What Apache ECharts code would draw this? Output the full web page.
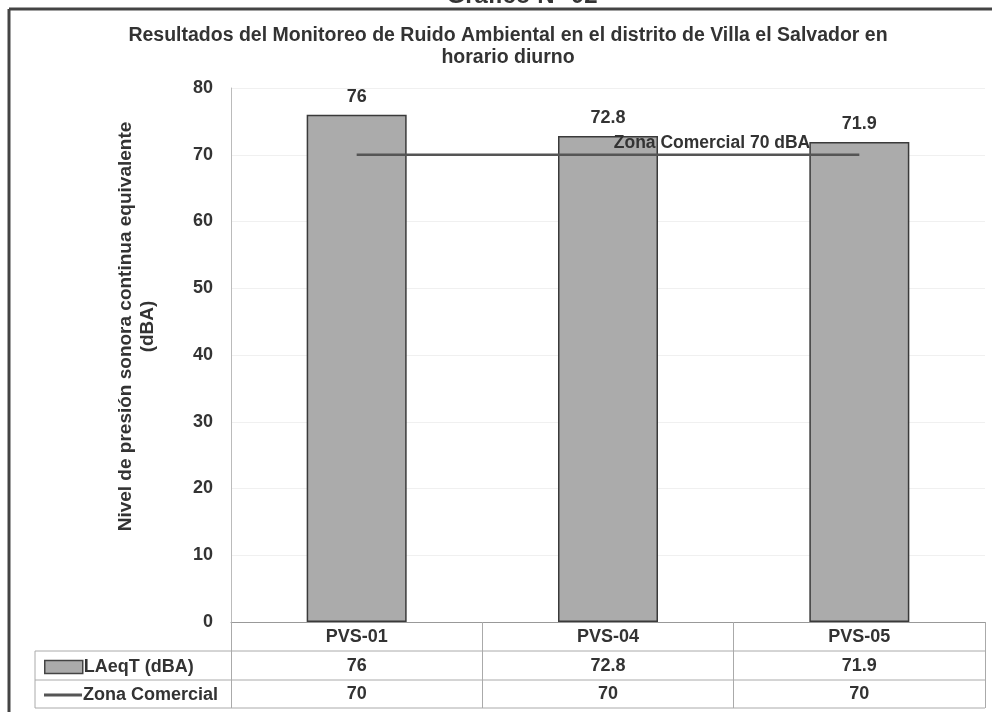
<!DOCTYPE html>
<html>
<head>
<meta charset="utf-8">
<script src="https://cdn.jsdelivr.net/npm/echarts@6/dist/echarts.min.js"></script>
<style>html,body{margin:0;padding:0;background:#fff}#c{width:992px;height:712px}</style>
</head>
<body>
<div id="c"></div>
<script>
const categories = ['PVS-01', 'PVS-04', 'PVS-05'];
const laeqValues = [76, 72.8, 71.9];
const zonaValues = [70, 70, 70];
const yTicks = [0, 10, 20, 30, 40, 50, 60, 70, 80];
const seriesNames = ['LAeqT (dBA)', 'Zona Comercial'];
const titleText = 'Resultados del Monitoreo de Ruido Ambiental en el distrito de Villa el Salvador en\nhorario diurno';
const yAxisName = 'Nivel de presión sonora continua equivalente\n(dBA)';

const FONT = '"Liberation Sans", Arial, sans-serif';
const chart = echarts.init(document.getElementById('c'), null, {renderer: 'canvas'});

const baseX = {
  type: 'category', gridIndex: 0, position: 'bottom',
  axisLine: {show: false}, axisTick: {show: false}, splitLine: {show: false},
  axisLabel: {fontFamily: FONT, fontWeight: 'bold', fontSize: 18, color: '#333', margin: 6}
};

chart.setOption({
  animation: false,
  backgroundColor: '#fff',
  title: [
    {text: 'Gráfico N° 02', left: 517, textAlign: 'center', top: -21,
     textStyle: {fontFamily: FONT, fontWeight: 'bold', fontSize: 24, color: '#333'}},
    {text: titleText, left: 503, textAlign: 'center', top: 20,
     textStyle: {fontFamily: FONT, fontWeight: 'bold', fontSize: 19.5, color: '#333', lineHeight: 22}}
  ],
  legend: [
    {data: [seriesNames[0]], left: 39, top: 653, orient: 'vertical', icon: 'rect',
     itemWidth: 38, itemHeight: 13, itemGap: 2,
     itemStyle: {color: '#ababab', borderColor: '#444', borderWidth: 1.5},
     textStyle: {fontFamily: FONT, fontWeight: 'bold', fontSize: 18, color: '#333', padding: [0,0,0,-4]}},
    {data: [seriesNames[1]], left: 39, top: 681, orient: 'vertical', icon: 'rect',
     itemWidth: 38, itemHeight: 3,
     itemStyle: {color: '#555', borderWidth: 0},
     textStyle: {fontFamily: FONT, fontWeight: 'bold', fontSize: 18, color: '#333', padding: [0,0,0,-4]}}
  ],
  grid: {left: 231, right: 7, top: 88, bottom: 90, containLabel: false},
  xAxis: [
    Object.assign({}, baseX, {
      data: categories,
      axisLine: {show: true, lineStyle: {color: '#999', width: 1}},
      axisTick: {show: true, alignWithLabel: false, length: 86, lineStyle: {color: '#aaa', width: 1}}
    }),
    Object.assign({}, baseX, {data: laeqValues.map(String), offset: 29}),
    Object.assign({}, baseX, {data: zonaValues.map(String), offset: 57})
  ],
  yAxis: {
    type: 'value', min: yTicks[0], max: yTicks[yTicks.length - 1], interval: 10,
    name: yAxisName, nameLocation: 'middle', nameGap: 72, nameRotate: 90,
    nameTextStyle: {fontFamily: FONT, fontWeight: 'bold', fontSize: 19, color: '#333', lineHeight: 22,
                    align: 'center', padding: [0, 0, 0, 57]},
    axisLine: {show: true, lineStyle: {color: '#bbb', width: 1}},
    axisTick: {show: false},
    axisLabel: {fontFamily: FONT, fontWeight: 'bold', fontSize: 18, color: '#333', margin: 18},
    splitLine: {show: true, lineStyle: {color: '#f0f0f0', width: 1}}
  },
  series: [
    {
      name: seriesNames[0], type: 'bar', data: laeqValues, barWidth: 100,
      itemStyle: {color: '#ababab', borderColor: '#3a3a3a', borderWidth: 1.5},
      label: {show: true, position: 'top', distance: 9,
              fontFamily: FONT, fontWeight: 'bold', fontSize: 18, color: '#333'}
    },
    {
      name: seriesNames[1], type: 'line', data: zonaValues.map((v, i) => i === 1 ? {
        value: v,
        label: {show: true, position: 'top', distance: 3, offset: [104, 0],
                formatter: p => 'Zona Comercial ' + p.value + ' dBA',
                fontFamily: FONT, fontWeight: 'bold', fontSize: 17.5, color: '#333'}
      } : v),
      symbol: 'circle', symbolSize: 0.01, z: 5,
      lineStyle: {color: '#555', width: 2.5},
      itemStyle: {color: '#555'},
      label: {show: false}
    }
  ],
  graphic: [
    {type: 'line', shape: {x1: 9, y1: 9, x2: 992, y2: 9}, style: {stroke: '#444', lineWidth: 3}},
    {type: 'line', shape: {x1: 9, y1: 9, x2: 9, y2: 712}, style: {stroke: '#444', lineWidth: 3}},
    {type: 'line', shape: {x1: 35, y1: 651, x2: 985, y2: 651}, style: {stroke: '#aaa', lineWidth: 1}},
    {type: 'line', shape: {x1: 35, y1: 680, x2: 985, y2: 680}, style: {stroke: '#aaa', lineWidth: 1}},
    {type: 'line', shape: {x1: 35, y1: 708, x2: 985, y2: 708}, style: {stroke: '#aaa', lineWidth: 1}},
    {type: 'line', shape: {x1: 35, y1: 651, x2: 35, y2: 708}, style: {stroke: '#aaa', lineWidth: 1}}
  ]
});
</script>
</body>
</html>
